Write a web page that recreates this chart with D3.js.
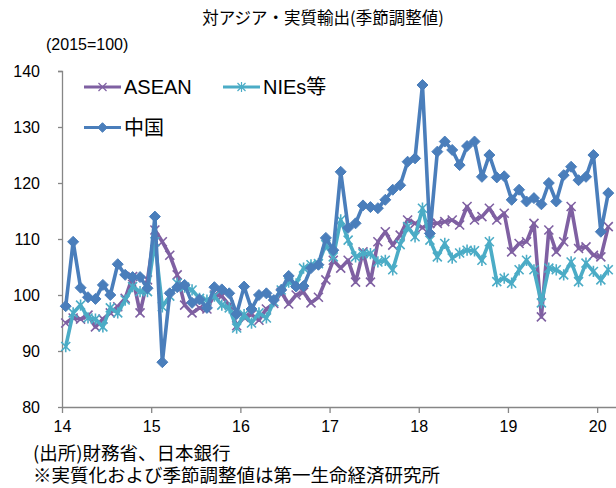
<!DOCTYPE html>
<html><head><meta charset="utf-8">
<script src="https://cdn.jsdelivr.net/npm/d3@7"></script>
<style>
body{margin:0;background:#fff;}
svg{display:block;font-family:"Liberation Sans","Noto Sans CJK JP",sans-serif;}
</style></head>
<body><svg id="c" width="616" height="488"></svg>
<script>
const yearLabels = ["14","15","16","17","18","19","20"];
const yTicks = [80,90,100,110,120,130,140];
const seriesNames = ["ASEAN","NIEs等","中国"];
const asean = [
95,95.9,95.7,96.4,94.3,95.7,96.8,97.9,99.4,103.3,96.8,102.7,
111.6,109.5,107.1,103.6,98.2,96.8,97.7,97.5,100,99.8,98.2,94.5,
96,96.5,95.5,97.5,98.5,100.5,98.4,100,100.5,98.6,99.6,102.7,
106.2,104.8,106.2,102.3,107.7,102.3,109.5,111.3,108.9,110.7,113.4,112.8,
112,112.8,112.8,113.1,113.4,112.5,115.8,113.4,114,115.5,113.4,114.6,
107.7,109.2,109.5,112.8,96.1,111.6,107.7,109.5,115.8,108.3,108.6,107.1,
106.8,112.2];
const nies = [
90.8,96.8,98.2,95.9,95.7,94.3,97.7,96.8,99.1,101.5,100.6,100.6,
109.5,97.9,99.8,102.1,101.4,100.9,99.4,99.1,99.8,98.2,97.7,94.1,
96.5,95,96.8,95.9,98.8,100.9,102.3,102,104.8,105.4,105.6,109,
106.8,113.4,109.8,106.8,107.4,107.4,105.9,106.2,104.5,109,112.2,110.4,
115.5,109.8,106.8,109.2,106.6,107.5,108,107.9,106.2,109.5,102.4,103,
102.1,104.5,106.2,104.5,98.6,104.8,104.5,103.6,105.9,102.4,105.7,104.2,
102.7,104.5];
const china = [
98,109.5,101.3,99.6,99.3,101.8,100,105.5,103.6,103.2,103.2,101.2,
114,88,100.3,101.4,101.8,98.6,99.2,97.7,101.4,101,100.3,96.6,
101.5,97.5,100,100.3,99.1,100.9,103.4,101.5,101.6,104.8,105.4,110.2,
108,122,112,112.8,116,115.7,115.5,117,118.8,119.6,123.8,124.4,
137.5,111,125.6,127.4,125.9,123.2,126.6,127.4,121.1,125,121,121.2,
117,118.8,116.7,117.3,116.2,120,116.7,121.4,122.9,120.5,121.1,125,
111.3,118.2];

const svg = d3.select("#c");
const L=62, R=612, T=71, B=407;
const nMonths = china.length;
const x = d3.scaleLinear().domain([0,nMonths]).range([L,R]);
const y = d3.scaleLinear().domain([80,140]).range([B,T]);
const axisColor = "#868686";

// axes
const yAx = svg.append("g").attr("transform",`translate(${L},0)`)
  .call(d3.axisLeft(y).tickValues(yTicks).tickSize(4).tickPadding(18).tickFormat(d3.format("d")));
const xAx = svg.append("g").attr("transform",`translate(0,${B})`)
  .call(d3.axisBottom(x).tickValues(yearLabels.map((d,i)=>i*12)).tickSize(6).tickPadding(8)
    .tickFormat((d,i)=>yearLabels[i]));
xAx.select(".domain").attr("d",`M${L},0.5H${R+4}`);
yAx.select(".domain").attr("d",`M-4,${T}.5H0.5V${B}`);
[yAx,xAx].forEach(g=>{
  g.selectAll(".domain,line").attr("stroke",axisColor).attr("stroke-width",1.3);
  g.selectAll("text").attr("fill","#000").style("font-size","16px")
    .style("font-family","'Liberation Sans',Arial,sans-serif");
});
yAx.selectAll("text").attr("dx","0").attr("x",-22);

// marker generators
const markers = {
  x: (s)=>`M${-s},${-s}L${s},${s}M${-s},${s}L${s},${-s}`,
  star: (s)=>`M${-s},${-s}L${s},${s}M${-s},${s}L${s},${-s}M0,${-s*1.25}L0,${s*1.25}`,
  diamond: (s)=>`M0,${-s}L${s},0L0,${s}L${-s},0Z`
};
const series = [
  {name:seriesNames[0], data:asean, color:"#7F60A2", m:"x", ms:4.5},
  {name:seriesNames[1], data:nies, color:"#4BACC6", m:"star", ms:4.5},
  {name:seriesNames[2], data:china, color:"#4A7EBB", m:"diamond", ms:5.5}
];
const line = d3.line().x((d,i)=>x(i+0.5)).y(d=>y(d));
function drawMarker(g, type, s, color, w){
  const p = g.append("path").attr("d", markers[type](s));
  if(type==="diamond") p.attr("fill",color).attr("stroke",color).attr("stroke-width",1);
  else p.attr("fill","none").attr("stroke",color).attr("stroke-width",w||1.6);
}
series.forEach(s=>{
  const g = svg.append("g");
  g.append("path").datum(s.data).attr("d",line).attr("fill","none")
    .attr("stroke",s.color).attr("stroke-width",3.6).attr("stroke-linejoin","round");
  s.data.forEach((v,i)=>{
    const mg = g.append("g").attr("transform",`translate(${x(i+0.5)},${y(v)})`);
    drawMarker(mg, s.m, s.ms, s.color);
  });
});

// legend
const legendPos = [[84,87],[223,87],[84,127.5]];
series.forEach((s,i)=>{
  const [lx,ly] = legendPos[i];
  const g = svg.append("g").attr("transform",`translate(${lx},${ly})`);
  g.append("line").attr("x1",0).attr("x2",37).attr("y1",0).attr("y2",0)
    .attr("stroke",s.color).attr("stroke-width",3.2);
  const mg = g.append("g").attr("transform","translate(18.5,0)");
  drawMarker(mg, s.m, s.m==="diamond"?4.8:4, s.color, 1.2);
  g.append("text").attr("x",40).attr("y",0).attr("dy","0.36em")
    .style("font-size","20px").text(s.name);
});

// titles
svg.append("text").attr("x",323).attr("y",18).attr("dy","0.36em").attr("text-anchor","middle")
  .style("font-size","16.5px").style("font-family","'Noto Sans CJK JP',sans-serif")
  .text("対アジア・実質輸出(季節調整値)");
svg.append("text").attr("x",46).attr("y",44).attr("dy","0.36em")
  .style("font-size","16px").text("(2015=100)");
svg.append("text").attr("x",33).attr("y",460)
  .style("font-size","18.5px").style("font-family","'Noto Sans CJK JP',sans-serif")
  .text("(出所)財務省、日本銀行");
svg.append("text").attr("x",33).attr("y",482)
  .style("font-size","18.5px").style("font-family","'Noto Sans CJK JP',sans-serif")
  .text("※実質化および季節調整値は第一生命経済研究所");
</script></body></html>
